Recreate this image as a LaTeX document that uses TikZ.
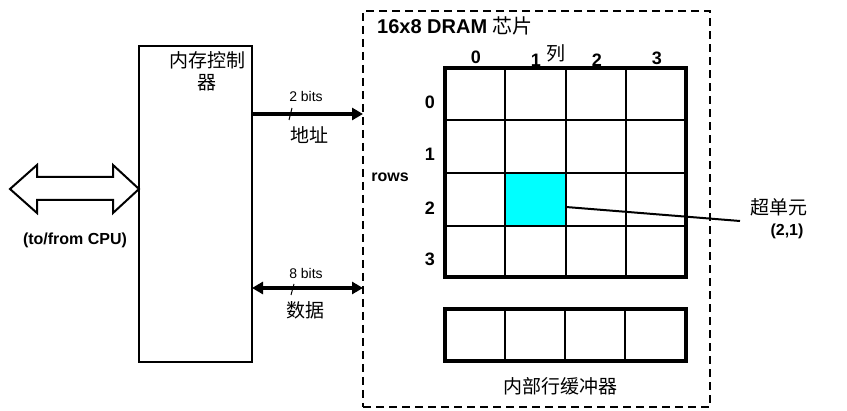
\documentclass[tikz,border=0pt]{standalone}
\usepackage{fontspec}
\setmainfont{Liberation Sans}
\newfontfamily\cjk{Noto Sans CJK SC}
\usetikzlibrary{arrows.meta}
\definecolor{cellcyan}{RGB}{0,255,255}
\tikzset{
  x=1pt, y=-1pt,
  lbl/.style={inner sep=0pt, font=\fontsize{16}{18}\selectfont\bfseries},
  digit/.style={inner sep=0pt, font=\fontsize{18}{20}\selectfont\bfseries},
  small/.style={inner sep=0pt, font=\fontsize{14}{16}\selectfont},
  cjklbl/.style={inner sep=0pt, font=\fontsize{19}{22}\selectfont\cjk},
  thickarrow/.style={line width=4.5pt, -{Triangle[length=11pt,width=12pt]}},
  bus/.style={line width=4.5pt, {Triangle[length=11pt,width=12pt]}-{Triangle[length=11pt,width=12pt]}},
  gridline/.style={line width=2.3pt},
  gridframe/.style={line width=4.5pt},
  tick/.style={line width=1pt}
}
\begin{document}
\begin{tikzpicture}
\useasboundingbox (0,0) rectangle (847,411);
% controller
\node[draw, line width=2.6pt, minimum width=113pt, minimum height=316pt, anchor=north west, inner sep=0pt, outer sep=0pt] (ctrl) at (139,46) {};
\node[cjklbl, align=center] (ctrllbl) at (207,71) {内存控制\\器};
% chip
\node[draw, line width=2.6pt, dash pattern=on 8pt off 5pt, minimum width=347pt, minimum height=396pt, anchor=north west, inner sep=0pt, outer sep=0pt] (chip) at (363,11) {};
\node[anchor=west, inner sep=0pt, font=\fontsize{20}{22}\selectfont\bfseries] (title) at (377,26) {16x8 DRAM {\cjk\mdseries 芯片}};
% hollow arrow to CPU
\draw[line width=2pt, fill=white] (10,189) -- (37,165) -- (37,177) -- (113,177) -- (113,165) -- (139,189) -- (113,213) -- (113,200) -- (37,200) -- (37,213) -- cycle;
\node[lbl] (cpu) at (75,240) {(to/from CPU)};
% address and data
\coordinate (addr) at (0,114);
\coordinate (data) at (0,288);
\draw[thickarrow] (ctrl.east |- addr) -- (chip.west |- addr);
\draw[bus] (ctrl.east |- data) -- (chip.west |- data);
\node[small] (abits) at (306,97) {2 bits};
\node[small] (dbits) at (306,273) {8 bits};
\coordinate (at1) at (289,120); \coordinate (at2) at (292,108);
\draw[tick] (at1) -- (at2);
\coordinate (dt1) at (291,295); \coordinate (dt2) at (294,284);
\draw[tick] (dt1) -- (dt2);
\node[cjklbl] (addrlbl) at (309,135) {地址};
\node[cjklbl] (datalbl) at (305,310) {数据};
% memory array
\fill[cellcyan] (505,173) rectangle (566,226);
\foreach \x in {505,566,626} \draw[gridline] (\x,68) -- (\x,277);
\foreach \y in {120,173,226} \draw[gridline] (445,\y) -- (686,\y);
\draw[gridframe] (445,68) rectangle (686,277);
\node[digit] (c0) at (476,57) {0};
\node[digit] (c1) at (536,60) {1};
\node[cjklbl] (colw) at (556,53) {列};
\node[digit] (c2) at (597,60) {2};
\node[digit] (c3) at (657,58) {3};
\node[digit] (r0) at (430,102) {0};
\node[digit] (r1) at (430,154) {1};
\node[digit] (r2) at (430,208) {2};
\node[digit] (r3) at (430,259) {3};
\node[lbl] (rows) at (390,177) {rows};
% super cell callout
\coordinate (cellend) at (566,207);
\coordinate (callend) at (740,221);
\draw[line width=2pt] (cellend) -- (callend);
\node[cjklbl] (sc) at (779,207) {超单元};
\node[lbl] (sc2) at (787,231) {(2,1)};
% row buffer
\foreach \x in {505,565,625} \draw[gridline] (\x,309) -- (\x,361);
\draw[gridframe] (445,309) rectangle (686,361);
\node[cjklbl] (buf) at (560,386) {内部行缓冲器};
\end{tikzpicture}
\end{document}
